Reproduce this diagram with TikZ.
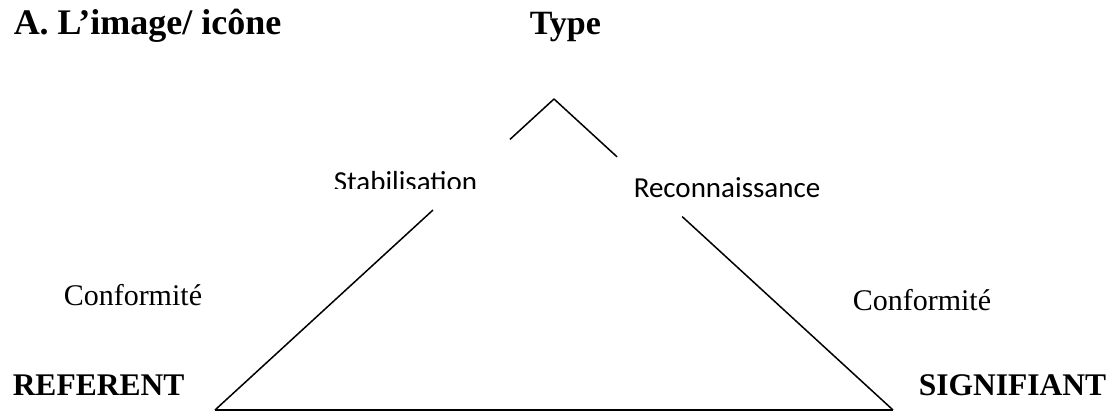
\documentclass[tikz,border=0pt]{standalone}
\usepackage{fontspec}
\setmainfont{Liberation Serif}
\newfontfamily\calibfont{Carlito}
\usetikzlibrary{calc}
\begin{document}
\begin{tikzpicture}[x=1pt, y=-1pt, line join=round, line width=1.5pt,
		lbl/.style={inner sep=0pt, anchor=base west},
		head/.style={lbl, font=\fontsize{34}{40}\selectfont\bfseries},
		pole/.style={lbl, font=\fontsize{31.5}{36}\selectfont\bfseries},
		rel/.style={lbl, font=\rmfamily\fontsize{30}{34}\selectfont},
		proc/.style={lbl, font=\calibfont\fontsize{29}{34}\selectfont}]
	\useasboundingbox (0,0) rectangle (1110,412);
	\node[head, font=\fontsize{36}{42}\selectfont\bfseries] (titre) at (13,35) {A. L’image/ icône};
	\node[head] (type) at (529,35) {Type};
	\node[pole] (referent) at (12,395) {REFERENT};
	\node[pole] (signifiant) at (918,395) {SIGNIFIANT};
	\foreach \nom/\x/\y in {confg/63/305, confd/852/310}
		\node[rel] (\nom) at (\x,\y) {Conformité};
	\node[proc] (recon) at (633,197) {Reconnaissance};
	\begin{scope}
		\clip (300,150) rectangle (520,188);
		\node[proc] (stab) at (333,191) {Stabilisation};
	\end{scope}
	\coordinate (sommet) at (554,99);
	\coordinate (gauche) at (215,410);
	\coordinate (droite) at (893,410);
	\draw (gauche) -- (droite);
	\draw (sommet) -- ($(sommet)!.13!(gauche)$);
	\draw ($(sommet)!.357!(gauche)$) -- (gauche);
	\draw (sommet) -- ($(sommet)!.186!(droite)$);
	\draw ($(sommet)!.378!(droite)$) -- (droite);
\end{tikzpicture}
\end{document}
